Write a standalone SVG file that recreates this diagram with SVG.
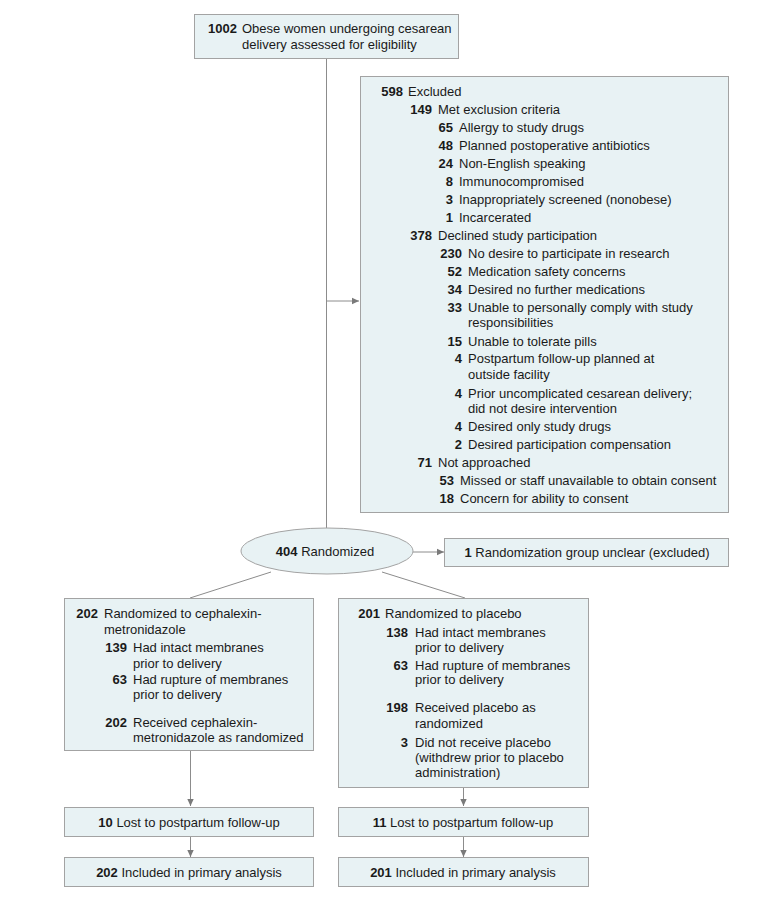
<svg xmlns="http://www.w3.org/2000/svg" width="780" height="899" viewBox="0 0 780 899">
<style>
text{font-family:"Liberation Sans",Arial,sans-serif;font-size:13px;fill:#1a1a1a}
.b{font-weight:bold}
.e{text-anchor:end}
.m{text-anchor:middle}
.box{fill:#e8f2f4;stroke:#a3a3a3;stroke-width:1}
.ln{fill:none;stroke:#8c8c8c;stroke-width:1}
</style>
<defs>
<marker id="ah" markerWidth="8" markerHeight="8" refX="7" refY="4" orient="auto" markerUnits="userSpaceOnUse">
<path d="M0,0.8 L7,4 L0,7.2 Z" fill="#7a7a7a"/>
</marker>
</defs>
<g id="connectors">
<line class="ln" x1="326.5" y1="58" x2="326.5" y2="528"/>
<line class="ln" x1="326.5" y1="301" x2="359" y2="301" marker-end="url(#ah)"/>
<line class="ln" x1="413" y1="552" x2="444" y2="552" marker-end="url(#ah)"/>
<line class="ln" x1="271" y1="572" x2="190" y2="598"/>
<line class="ln" x1="382" y1="572" x2="465" y2="598"/>
<line class="ln" x1="190.5" y1="750" x2="190.5" y2="806" marker-end="url(#ah)"/>
<line class="ln" x1="190.5" y1="836" x2="190.5" y2="857" marker-end="url(#ah)"/>
<line class="ln" x1="463.5" y1="787" x2="463.5" y2="806" marker-end="url(#ah)"/>
<line class="ln" x1="463.5" y1="836" x2="463.5" y2="857" marker-end="url(#ah)"/>
</g>
<g id="assessed">
<rect class="box" x="194.5" y="14.5" width="264" height="44"/>
<text class="b e" x="237" y="33">1002</text>
<text x="242" y="33">Obese women undergoing cesarean</text>
<text x="242" y="49">delivery assessed for eligibility</text>
</g>
<g id="excluded">
<rect class="box" x="360.5" y="76.5" width="368" height="436"/>
<text class="b e" x="403" y="96">598</text><text x="408" y="96">Excluded</text>
<text class="b e" x="432" y="114">149</text><text x="438" y="114">Met exclusion criteria</text>
<text class="b e" x="453" y="132">65</text><text x="459" y="132">Allergy to study drugs</text>
<text class="b e" x="453" y="150">48</text><text x="459" y="150">Planned postoperative antibiotics</text>
<text class="b e" x="453" y="168">24</text><text x="459" y="168">Non-English speaking</text>
<text class="b e" x="453" y="186">8</text><text x="459" y="186">Immunocompromised</text>
<text class="b e" x="453" y="204">3</text><text x="459" y="204">Inappropriately screened (nonobese)</text>
<text class="b e" x="453" y="222">1</text><text x="459" y="222">Incarcerated</text>
<text class="b e" x="432" y="240">378</text><text x="438" y="240">Declined study participation</text>
<text class="b e" x="462" y="258">230</text><text x="468" y="258">No desire to participate in research</text>
<text class="b e" x="462" y="276">52</text><text x="468" y="276">Medication safety concerns</text>
<text class="b e" x="462" y="294">34</text><text x="468" y="294">Desired no further medications</text>
<text class="b e" x="462" y="312">33</text><text x="468" y="312">Unable to personally comply with study</text>
<text x="468" y="327">responsibilities</text>
<text class="b e" x="462" y="346">15</text><text x="468" y="346">Unable to tolerate pills</text>
<text class="b e" x="462" y="363">4</text><text x="468" y="363">Postpartum follow-up planned at</text>
<text x="468" y="379">outside facility</text>
<text class="b e" x="462" y="398">4</text><text x="468" y="398">Prior uncomplicated cesarean delivery;</text>
<text x="468" y="413">did not desire intervention</text>
<text class="b e" x="462" y="431">4</text><text x="468" y="431">Desired only study drugs</text>
<text class="b e" x="462" y="449">2</text><text x="468" y="449">Desired participation compensation</text>
<text class="b e" x="432" y="467">71</text><text x="438" y="467">Not approached</text>
<text class="b e" x="454" y="485">53</text><text x="460" y="485">Missed or staff unavailable to obtain consent</text>
<text class="b e" x="454" y="503">18</text><text x="460" y="503">Concern for ability to consent</text>
</g>
<g id="randomized">
<ellipse class="box" cx="327" cy="551" rx="86" ry="23"/>
<text class="m" x="325" y="556"><tspan class="b">404</tspan> Randomized</text>
</g>
<g id="unclear">
<rect class="box" x="444.5" y="538.5" width="284" height="28"/>
<text class="m" x="587" y="557"><tspan class="b">1</tspan> Randomization group unclear (excluded)</text>
</g>
<g id="cephalexin">
<rect class="box" x="64.5" y="598.5" width="249" height="152"/>
<text class="b e" x="98" y="618">202</text><text x="104" y="618">Randomized to cephalexin-</text>
<text x="104" y="634">metronidazole</text>
<text class="b e" x="127" y="652">139</text><text x="133" y="652">Had intact membranes</text>
<text x="133" y="668">prior to delivery</text>
<text class="b e" x="127" y="684">63</text><text x="133" y="684">Had rupture of membranes</text>
<text x="133" y="699">prior to delivery</text>
<text class="b e" x="127" y="727">202</text><text x="133" y="727">Received cephalexin-</text>
<text x="133" y="742">metronidazole as randomized</text>
</g>
<g id="placebo">
<rect class="box" x="338.5" y="598.5" width="250" height="189"/>
<text class="b e" x="380" y="618">201</text><text x="385" y="618">Randomized to placebo</text>
<text class="b e" x="408" y="637">138</text><text x="415" y="637">Had intact membranes</text>
<text x="415" y="652">prior to delivery</text>
<text class="b e" x="408" y="670">63</text><text x="415" y="670">Had rupture of membranes</text>
<text x="415" y="684">prior to delivery</text>
<text class="b e" x="408" y="712">198</text><text x="415" y="712">Received placebo as</text>
<text x="415" y="728">randomized</text>
<text class="b e" x="408" y="747">3</text><text x="415" y="747">Did not receive placebo</text>
<text x="415" y="762">(withdrew prior to placebo</text>
<text x="415" y="777">administration)</text>
</g>
<g id="lost-left">
<rect class="box" x="64.5" y="807.5" width="249" height="29"/>
<text class="m" x="189" y="827"><tspan class="b">10</tspan> Lost to postpartum follow-up</text>
</g>
<g id="lost-right">
<rect class="box" x="338.5" y="807.5" width="250" height="29"/>
<text class="m" x="463" y="827"><tspan class="b">11</tspan> Lost to postpartum follow-up</text>
</g>
<g id="included-left">
<rect class="box" x="64.5" y="857.5" width="249" height="29"/>
<text class="m" x="189" y="877"><tspan class="b">202</tspan> Included in primary analysis</text>
</g>
<g id="included-right">
<rect class="box" x="338.5" y="857.5" width="250" height="29"/>
<text class="m" x="463" y="877"><tspan class="b">201</tspan> Included in primary analysis</text>
</g>
</svg>
